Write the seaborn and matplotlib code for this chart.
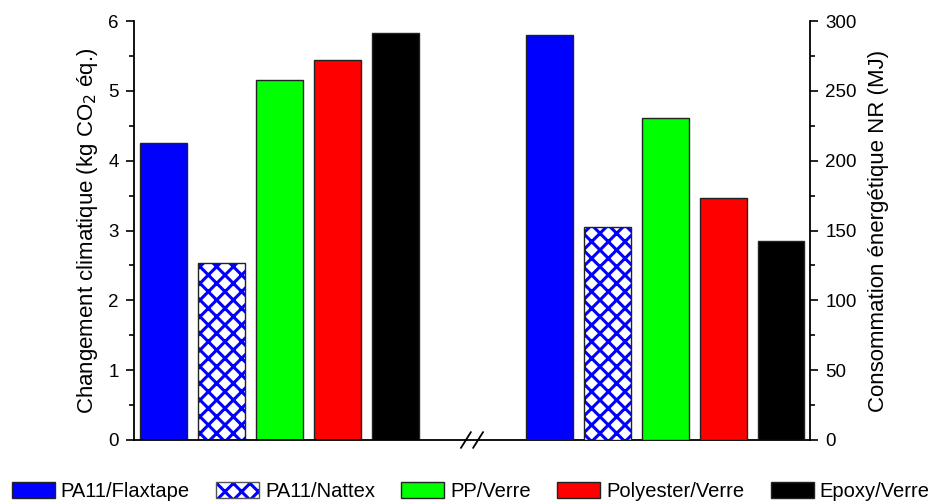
import matplotlib
matplotlib.use("Agg")
import matplotlib.pyplot as plt
import seaborn as sns
import pandas as pd
from matplotlib.patches import Rectangle
from matplotlib.ticker import MultipleLocator, AutoMinorLocator

materials = ["PA11/Flaxtape", "PA11/Nattex", "PP/Verre", "Polyester/Verre", "Epoxy/Verre"]
colors = ["#0000ff", "#ffffff", "#00ff00", "#ff0000", "#000000"]
climate = [4.25, 2.53, 5.16, 5.44, 5.83]      # kg CO2 eq.
energy = [290.0, 152.5, 230.5, 173.3, 142.5]   # MJ

left_pos = [0, 1, 2, 3, 4]
right_pos = [6.65, 7.65, 8.65, 9.65, 10.65]

sns.set_style("ticks")
plt.rcParams["font.family"] = ["Liberation Sans", "DejaVu Sans"]
plt.rcParams["hatch.linewidth"] = 2.2
for k in ("text.color", "axes.labelcolor", "xtick.color", "ytick.color", "axes.edgecolor"):
    plt.rcParams[k] = "black"

fig = plt.figure(figsize=(9.32, 5.04), dpi=100)
ax = fig.add_axes([0.1438, 0.127, 0.7253, 0.8313])
ax2 = ax.twinx()

palette = dict(zip(materials, colors))
df_l = pd.DataFrame({"pos": left_pos, "val": climate, "mat": materials})
df_r = pd.DataFrame({"pos": right_pos, "val": energy, "mat": materials})

sns.barplot(data=df_l, x="pos", y="val", hue="mat", hue_order=materials,
            palette=palette, native_scale=True, dodge=False, width=0.81,
            edgecolor="#222222", linewidth=1, saturation=1, legend=False, ax=ax)
sns.barplot(data=df_r, x="pos", y="val", hue="mat", hue_order=materials,
            palette=palette, native_scale=True, dodge=False, width=0.81,
            edgecolor="#222222", linewidth=1, saturation=1, legend=False, ax=ax2)

# crosshatched Nattex bars: blue hatch, dark outline on top
for a in (ax, ax2):
    p = a.patches[1]
    p.set_facecolor("white")
    p.set_hatch("xx")
    p.set_edgecolor("#0000ff")
    p.set_linewidth(0)
    a.add_patch(Rectangle(p.get_xy(), p.get_width(), p.get_height(),
                          fill=False, edgecolor="#222222", lw=1))

ax.set_xlim(-0.51, 11.15)
ax.set_ylim(0, 6)
ax2.set_ylim(0, 300)
ax.set_xticks([])
ax.set_xlabel("")
ax2.set_xlabel("")

ax.yaxis.set_major_locator(MultipleLocator(1))
ax.yaxis.set_minor_locator(AutoMinorLocator(2))
ax2.yaxis.set_major_locator(MultipleLocator(50))
ax2.yaxis.set_minor_locator(AutoMinorLocator(2))

for a in (ax, ax2):
    a.tick_params(axis="y", which="major", length=6, width=1.2, labelsize=13.5, pad=5)
    a.tick_params(axis="y", which="minor", length=3.5, width=1.2)
    a.spines["top"].set_visible(False)
    for s in a.spines.values():
        s.set_linewidth(1.3)
ax.spines["right"].set_visible(False)
ax2.spines["left"].set_visible(False)
ax2.spines["bottom"].set_visible(False)

ax.set_ylabel("Changement climatique (kg CO$_2$ éq.)", fontsize=16, labelpad=6)
ax2.set_ylabel("Consommation énergétique NR (MJ)", fontsize=16, labelpad=8)

# axis break mark
for dx in (-0.009, 0.009):
    ax.plot([0.5 + dx - 0.0074, 0.5 + dx + 0.0074], [-0.019, 0.019],
            transform=ax.transAxes, color="black", lw=1.3, clip_on=False)

handles = []
for m, c in zip(materials, colors):
    if m == "PA11/Nattex":
        handles.append((Rectangle((0, 0), 1, 1, facecolor="white", edgecolor="#0000ff",
                                  hatch="xx", lw=0),
                        Rectangle((0, 0), 1, 1, fill=False, edgecolor="#555555", lw=1)))
    else:
        handles.append(Rectangle((0, 0), 1, 1, facecolor=c, edgecolor="#222222", lw=1))

fig.legend(handles, materials, loc="lower center", bbox_to_anchor=(0.505, -0.022),
           ncol=5, frameon=False, fontsize=14.5, handlelength=2.14, handleheight=0.85,
           handletextpad=0.3, columnspacing=1.3, borderpad=0.2)

fig.savefig("out.png", dpi=100)
